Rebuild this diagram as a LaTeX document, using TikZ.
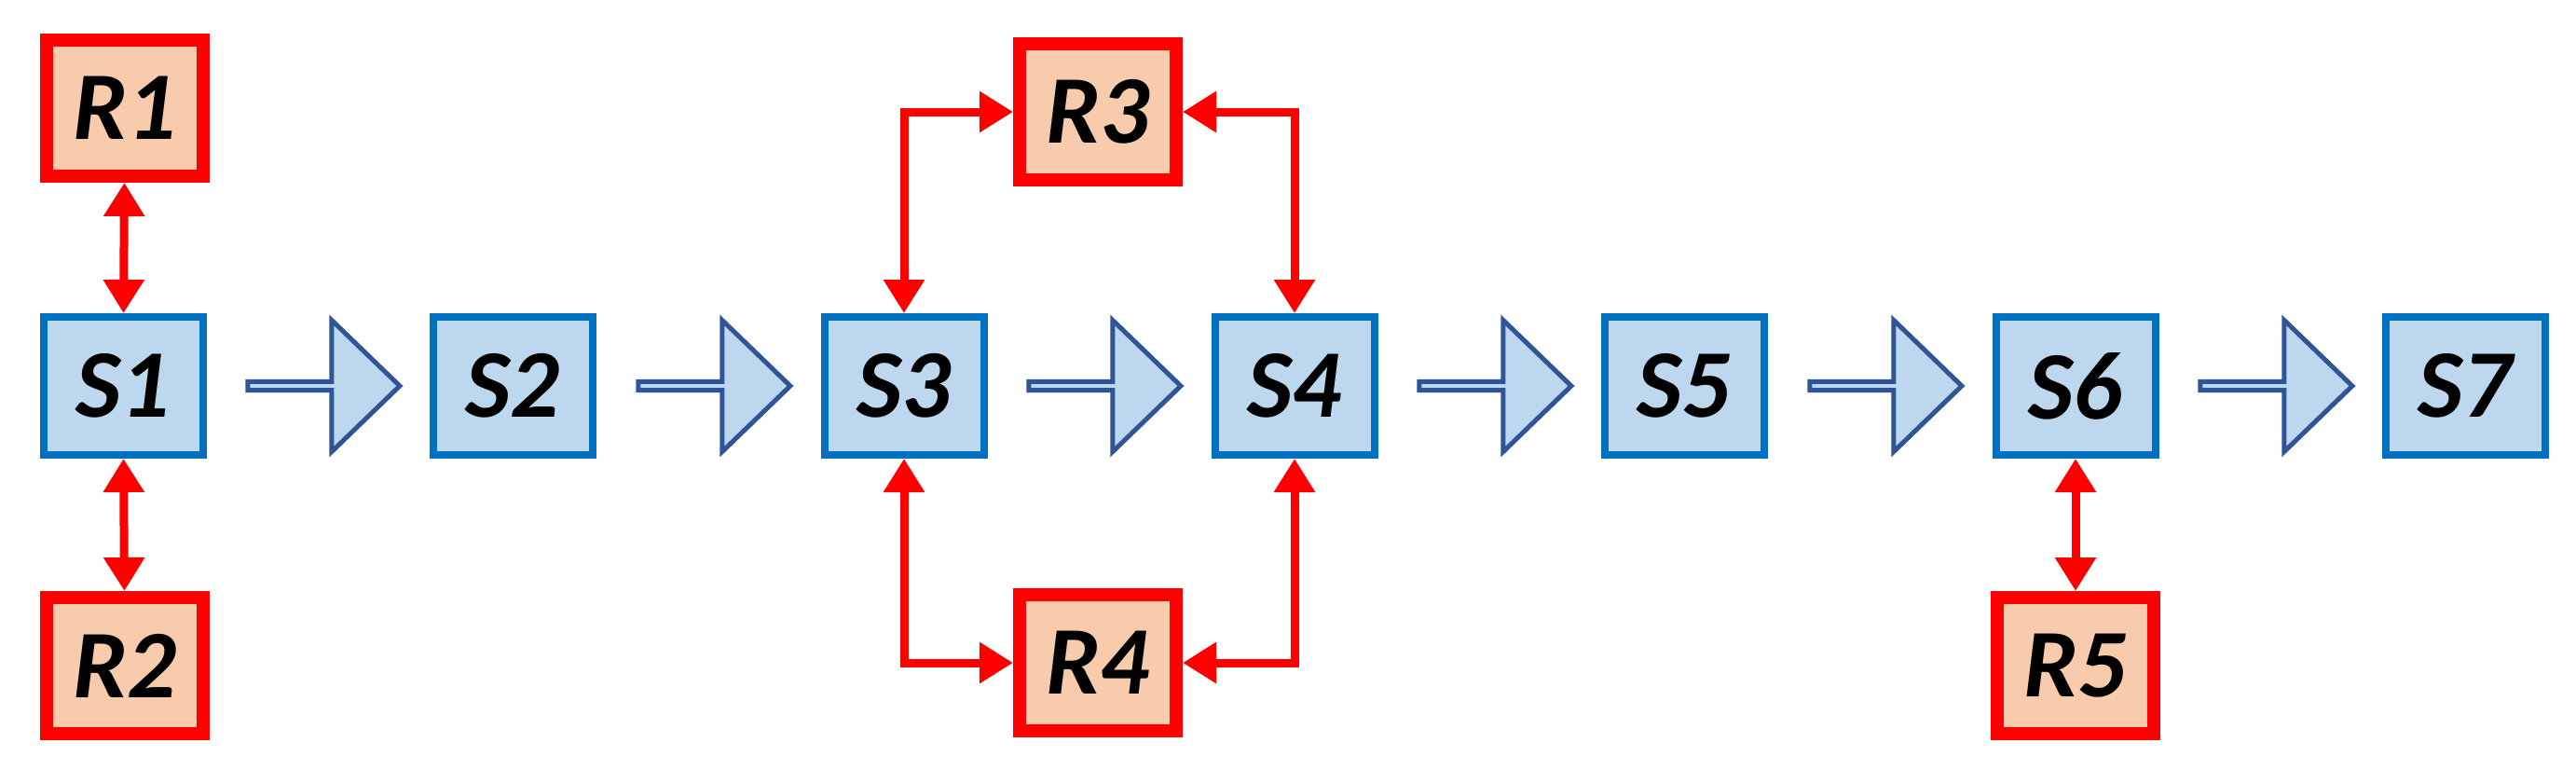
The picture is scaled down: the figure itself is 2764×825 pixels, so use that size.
\documentclass[tikz,border=0pt]{standalone}
\usepackage{fontspec}
\setmainfont{Carlito}
\usetikzlibrary{arrows.meta,shapes.arrows}
\definecolor{sfill}{HTML}{BDD7EE}
\definecolor{sdraw}{HTML}{0070C0}
\definecolor{rfill}{HTML}{F8CBAD}
\definecolor{adraw}{HTML}{2F5597}
\begin{document}
\begin{tikzpicture}[x=0.5pt,y=-0.5pt,
  sbox/.style={draw=sdraw,fill=sfill,line width=4pt,minimum width=85.5pt,minimum height=74pt,inner sep=0pt,font=\fontsize{52}{52}\selectfont\bfseries\itshape},
  rbox/.style={draw=red,fill=rfill,line width=7pt,minimum width=84pt,minimum height=73pt,inner sep=0pt,font=\fontsize{52}{52}\selectfont\bfseries\itshape},
  blk/.style={single arrow,draw=adraw,fill=sfill,line width=2.5pt,minimum width=70.5pt,minimum height=81.5pt,single arrow head extend=17.5pt,single arrow tip angle=88,inner sep=0pt},
  rl/.style={draw=red,line width=4.5pt,{Triangle[length=18pt,width=21pt]}-{Triangle[length=18pt,width=21pt]}}]
\useasboundingbox (0,0) rectangle (2764,825);
\foreach \i/\x in {1/132,2/550,3/970,4/1389,5/1807,6/2227,7/2645}{
  \node[sbox] (s\i) at (\x,414) {S\i};
}
\foreach \i/\j/\x in {1/2/345,2/3/764,3/4/1183,4/5/1602,5/6/2021,6/7/2440}{
  \node[blk] (a\i) at (\x,414) {};
}
\node[rbox] (r1) at (134,116) {R1};
\node[rbox] (r2) at (134,714) {R2};
\node[rbox] (r3) at (1178,120) {R3};
\node[rbox] (r4) at (1178,711) {R4};
\node[rbox] (r5) at (2227,714) {R5};
\draw[rl] (r1) -- (s1);
\draw[rl] (s1) -- (r2);
\draw[rl] (s6) -- (r5);
\draw[rl] (s3.north) |- (r3.west);
\draw[rl] (s4.north) |- (r3.east);
\draw[rl] (s3.south) |- (r4.west);
\draw[rl] (s4.south) |- (r4.east);
\end{tikzpicture}
\end{document}
